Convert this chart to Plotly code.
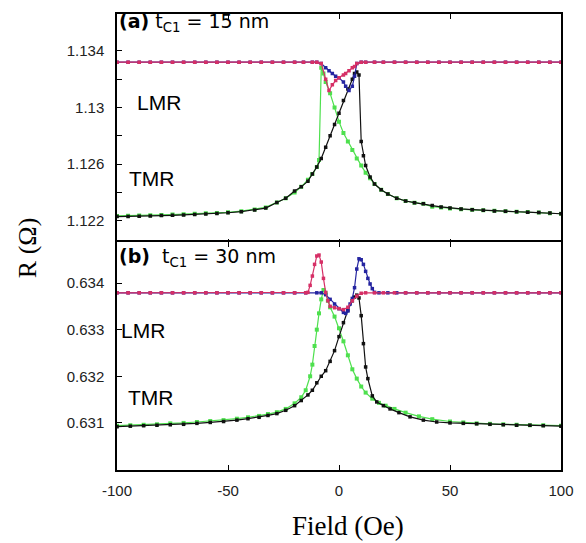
import plotly.graph_objects as go
from plotly.subplots import make_subplots

# ---------------- Panel (a): t_C1 = 15 nm ----------------
a_tmr_up_field = [-100, -95, -90, -85, -80, -75, -70, -65, -60, -55, -50, -44, -38, -33, -28, -24, -20, -17, -14,
                  -12, -10, -8, -6, -4, -2, 0, 2, 4, 6, 7, 8, 9, 10, 11, 12, 14, 16, 19, 22, 26, 30, 34, 38, 42,
                  46, 50, 55, 60, 65, 70, 75, 80, 85, 90, 95, 100]
a_tmr_up_R = [1.1223, 1.12231, 1.12233, 1.12235, 1.12237, 1.12239, 1.12242, 1.12245, 1.12248, 1.12252, 1.12257,
              1.12265, 1.12277, 1.1229, 1.1233, 1.1236, 1.1241, 1.1244, 1.1248,
              1.1253, 1.1258, 1.1264, 1.1272, 1.1280, 1.1288, 1.1296, 1.1305, 1.1313, 1.1320, 1.1324, 1.1325,
              1.1323, 1.1276, 1.1266, 1.1259, 1.1251, 1.1246, 1.1242, 1.1239, 1.1236, 1.1234, 1.12328, 1.1232,
              1.12308, 1.12298, 1.1229, 1.12284, 1.12279, 1.12274, 1.1227, 1.12267, 1.12264, 1.12261, 1.12258,
              1.12255, 1.1225]

a_tmr_dn_field = [-100, -95, -90, -85, -80, -75, -70, -65, -60, -55, -50, -44, -38, -33, -28, -24, -20, -17, -14,
                  -12, -10, -9, -8, -7, -6, -4, -2, 0, 2, 4, 6, 8, 10, 12, 14, 16, 19, 22, 26, 30, 34, 38, 42, 46,
                  50, 55, 60, 65, 70, 75, 80, 85, 90, 95, 100]
a_tmr_dn_R = [1.12235, 1.12236, 1.12238, 1.1224, 1.12242, 1.12244, 1.12247, 1.1225, 1.12253, 1.12256, 1.1226,
              1.12268, 1.1228, 1.12295, 1.1233, 1.1236, 1.1240, 1.1244, 1.1249,
              1.1253, 1.1258, 1.1263, 1.1328, 1.1324, 1.1318, 1.1310, 1.1300, 1.1290, 1.1282, 1.1276, 1.1270,
              1.1264, 1.1259, 1.1254, 1.1250, 1.1246, 1.1242, 1.1239, 1.1236, 1.1234, 1.12328, 1.1232, 1.1230,
              1.12294, 1.12287, 1.12282, 1.12278, 1.12274, 1.12271, 1.12268, 1.12265, 1.12262, 1.12258, 1.12254,
              1.1225]

a_lmr_field = [-100, -95, -90, -85, -80, -75, -70, -65, -60, -55, -50, -45, -40, -35, -30, -25, -20, -16, -12, -10,
               -8, -6, -4.5, -3, -1.5, 0, 2, 3, 4.5, 6, 7, 8, 10, 12, 16, 20, 25, 30, 35, 40, 45, 50, 55, 60,
               65, 70, 75, 80, 85, 90, 95, 100]
a_lmr_red_R = [1.1332, 1.1332, 1.1332, 1.1332, 1.1332, 1.1332, 1.1332, 1.1332, 1.1332, 1.1332, 1.1332, 1.1332,
               1.1332, 1.1332, 1.1332, 1.1332, 1.1332, 1.1332, 1.1332, 1.1332,
               1.1331, 1.1320, 1.1312, 1.1316, 1.1319, 1.1321, 1.1323, 1.1324, 1.1326, 1.1328, 1.1329, 1.1331,
               1.1332, 1.1332, 1.1332, 1.1332, 1.1332, 1.1332, 1.1332, 1.1332, 1.1332, 1.1332, 1.1332, 1.1332,
               1.1332, 1.1332, 1.1332, 1.1332, 1.1332, 1.1332, 1.1332, 1.1332]
a_lmr_blue_R = [1.1332, 1.1332, 1.1332, 1.1332, 1.1332, 1.1332, 1.1332, 1.1332, 1.1332, 1.1332, 1.1332, 1.1332,
                1.1332, 1.1332, 1.1332, 1.1332, 1.1332, 1.1332, 1.1332, 1.1332,
                1.1331, 1.1328, 1.1326, 1.1324, 1.1322, 1.1321, 1.1318, 1.1315, 1.1312, 1.1315, 1.1322, 1.1331,
                1.1332, 1.1332, 1.1332, 1.1332, 1.1332, 1.1332, 1.1332, 1.1332, 1.1332, 1.1332, 1.1332, 1.1332,
                1.1332, 1.1332, 1.1332, 1.1332, 1.1332, 1.1332, 1.1332, 1.1332]

# ---------------- Panel (b): t_C1 = 30 nm ----------------
b_tmr_up_field = [-100, -94, -88, -82, -76, -70, -64, -58, -52, -46, -41, -36, -32, -28, -24, -20, -17, -14, -12,
                  -10, -8, -6, -4, -2, 0, 2, 4, 6, 7, 8, 9, 10, 11, 12, 13, 15, 17, 20, 23, 27, 32, 38, 44, 50,
                  56, 62, 68, 74, 80, 86, 92, 100]
b_tmr_up_R = [0.63092, 0.63093, 0.63094, 0.63095, 0.63096, 0.63097, 0.63099, 0.63101, 0.63103, 0.63106, 0.63109,
              0.63112, 0.63116, 0.6312, 0.63127, 0.63137, 0.63148, 0.6316, 0.6317,
              0.63186, 0.632, 0.63212, 0.63232, 0.63255, 0.63285, 0.63315, 0.63342, 0.63362, 0.6337, 0.63374,
              0.63368, 0.6333, 0.6327, 0.6322, 0.63195, 0.63158, 0.63145, 0.63137, 0.6313, 0.63122, 0.63113,
              0.63106, 0.63102, 0.631, 0.63099, 0.63098, 0.63097, 0.63096, 0.63095, 0.63095, 0.63094, 0.63093]

b_tmr_dn_field = [-100, -94, -88, -82, -76, -70, -64, -58, -52, -46, -41, -36, -32, -28, -24, -20, -17, -15, -13,
                  -12, -11, -10, -9, -8, -7, -6, -5, -4, -2, 0, 2, 4, 6, 8, 10, 12, 15, 18, 21, 25, 30, 36, 42,
                  50, 56, 62, 68, 74, 80, 86, 92, 100]
b_tmr_dn_R = [0.63094, 0.63095, 0.63096, 0.63097, 0.63099, 0.631, 0.63102, 0.63104, 0.63106, 0.63109, 0.63112,
              0.63115, 0.63119, 0.63123, 0.6313, 0.63142, 0.63155, 0.6317, 0.632,
              0.63225, 0.63265, 0.633, 0.63335, 0.63365, 0.63385, 0.63378, 0.63362, 0.63348, 0.63328, 0.63303,
              0.63275, 0.63245, 0.63215, 0.63195, 0.63178, 0.63165, 0.63152, 0.63143, 0.63137, 0.6313, 0.63122,
              0.63114, 0.63108, 0.63103, 0.63101, 0.63099, 0.63098, 0.63097, 0.63096, 0.63095, 0.63095, 0.63094]

b_lmr_red_field = [-100, -95, -90, -85, -80, -75, -70, -65, -60, -55, -50, -45, -40, -35, -30, -25, -20, -15, -14,
                   -13, -12, -11, -10, -9, -8, -7, -6, -5, -4, -2, 0, 2, 4, 6, 8, 10, 12, 16, 20, 25, 30, 35, 40,
                   45, 50, 55, 60, 65, 70, 75, 80, 85, 90, 95, 100]
b_lmr_red_R = [0.63379, 0.63379, 0.63379, 0.63379, 0.63379, 0.63379, 0.63379, 0.63379, 0.63379, 0.63379, 0.63379,
               0.63379, 0.63379, 0.63379, 0.63379, 0.63379, 0.63379, 0.63379, 0.6338,
               0.63395, 0.63415, 0.6344, 0.63458, 0.6346, 0.63445, 0.6341, 0.6338, 0.63362, 0.6335, 0.63347,
               0.63345, 0.63343, 0.63348, 0.63362, 0.63372, 0.63378, 0.63379, 0.63379, 0.63379, 0.63379, 0.63379,
               0.63379, 0.63379, 0.63379, 0.63379, 0.63379, 0.63379, 0.63379, 0.63379, 0.63379, 0.63379, 0.63379,
               0.63379, 0.63379, 0.63379]

b_lmr_blue_field = [-100, -95, -90, -85, -80, -75, -70, -65, -60, -55, -50, -45, -40, -35, -30, -25, -20, -15, -10,
                    -8, -6, -4, -2, 0, 2, 3, 4, 5, 6, 7, 8, 9, 10, 11, 12, 13, 14, 15, 16, 18, 22, 26, 30, 35, 40,
                    45, 50, 55, 60, 65, 70, 75, 80, 85, 90, 95, 100]
b_lmr_blue_R = [0.63379, 0.63379, 0.63379, 0.63379, 0.63379, 0.63379, 0.63379, 0.63379, 0.63379, 0.63379, 0.63379,
                0.63379, 0.63379, 0.63379, 0.63379, 0.63379, 0.63379, 0.63379, 0.63379,
                0.63379, 0.63375, 0.63365, 0.63355, 0.63345, 0.63337, 0.63335, 0.6334, 0.63355, 0.63367, 0.6339,
                0.6343, 0.63452, 0.6345, 0.6344, 0.63425, 0.6341, 0.63398, 0.63388, 0.6338, 0.63379, 0.63379,
                0.63379, 0.63379, 0.63379, 0.63379, 0.63379, 0.63379, 0.63379, 0.63379, 0.63379, 0.63379, 0.63379,
                0.63379, 0.63379, 0.63379, 0.63379, 0.63379]

# ---------------- Axis ticks ----------------
x_ticks = [-100, -50, 0, 50, 100]
x_ticktext = ["-100", "-50", "0", "50", "100"]
a_yticks = [1.122, 1.124, 1.126, 1.128, 1.130, 1.132, 1.134]
a_yticktext = ["1.122", "", "1.126", "", "1.13", "", "1.134"]
b_yticks = [0.631, 0.632, 0.633, 0.634]
b_yticktext = ["0.631", "0.632", "0.633", "0.634"]

BLACK = "#111111"
GREEN = "#4ee04e"
RED = "#d62f66"
BLUE = "#2424a0"

fig = make_subplots(rows=2, cols=1, shared_xaxes=True, vertical_spacing=0.0)


def add(row, x, y, color, size=3.5):
    fig.add_trace(go.Scatter(x=x, y=y, mode="lines+markers",
                             line=dict(color=color, width=1.2),
                             marker=dict(symbol="square", size=size, color=color),
                             showlegend=False, hoverinfo="skip"), row=row, col=1)


# Panel (a)
add(1, a_tmr_dn_field, a_tmr_dn_R, GREEN, 4)
add(1, a_tmr_up_field, a_tmr_up_R, BLACK)
add(1, a_lmr_field, a_lmr_blue_R, BLUE)
add(1, a_lmr_field, a_lmr_red_R, RED)
# Panel (b)
add(2, b_tmr_dn_field, b_tmr_dn_R, GREEN, 4)
add(2, b_tmr_up_field, b_tmr_up_R, BLACK)
add(2, b_lmr_blue_field, b_lmr_blue_R, BLUE)
add(2, b_lmr_red_field, b_lmr_red_R, RED)

axis_common = dict(showline=True, linecolor="black", linewidth=1.5, mirror=True,
                   ticks="inside", ticklen=5, tickcolor="black", tickwidth=1,
                   showgrid=False, zeroline=False, ticklabelstandoff=8,
                   tickfont=dict(family="Arial, Liberation Sans", size=15, color="#222222"))

fig.update_xaxes(range=[-100, 100], tickvals=x_ticks, ticktext=x_ticktext, **axis_common)
fig.update_xaxes(showticklabels=False, mirror="allticks", row=1, col=1)
fig.update_xaxes(mirror="allticks", ticklabelstandoff=6, row=2, col=1)
fig.update_yaxes(range=[1.1204, 1.1366], tickvals=a_yticks, ticktext=a_yticktext, **axis_common, row=1, col=1)
fig.update_yaxes(range=[0.62999, 0.63488], tickvals=b_yticks, ticktext=b_yticktext, **axis_common, row=2, col=1)
# overlap the shared border so it draws as one line
fig.update_yaxes(domain=[0.4967, 1.0], row=1, col=1)
fig.update_yaxes(domain=[0.0, 0.5], row=2, col=1)

lab_font = dict(family="Arial, Liberation Sans", size=21, color="black")
title_font = dict(family="DejaVu Sans, Arial", size=19, color="black")
ann = [
    dict(x=0.0, y=0.982, text="<b>(a)</b> t<sub>C1</sub> = 15 nm", font=title_font),
    dict(x=0.04, y=0.805, text="LMR", font=lab_font),
    dict(x=0.022, y=0.64, text="TMR", font=lab_font),
    dict(x=0.0, y=0.465, text="<b>(b)</b>  t<sub>C1</sub> = 30 nm", font=title_font),
    dict(x=0.004, y=0.307, text="LMR", font=lab_font),
    dict(x=0.02, y=0.158, text="TMR", font=lab_font),
]
for a in ann:
    fig.add_annotation(xref="paper", yref="paper", x=a["x"], y=a["y"], text=a["text"],
                       showarrow=False, xanchor="left", yanchor="middle", font=a["font"])

fig.add_annotation(xref="paper", yref="paper", x=-0.2, y=0.487, text="R (Ω)", textangle=-90,
                   showarrow=False, xanchor="center", yanchor="middle",
                   font=dict(family="Liberation Serif, Times New Roman", size=26, color="black"))
fig.add_annotation(xref="paper", yref="paper", x=0.52, y=-0.123, text="Field (Oe)",
                   showarrow=False, xanchor="center", yanchor="middle",
                   font=dict(family="Liberation Serif, Times New Roman", size=27, color="black"))

fig.update_layout(width=586, height=543, margin=dict(l=117, r=12, t=14, b=73),
                  plot_bgcolor="white", paper_bgcolor="white")

fig.write_html("out.html")
